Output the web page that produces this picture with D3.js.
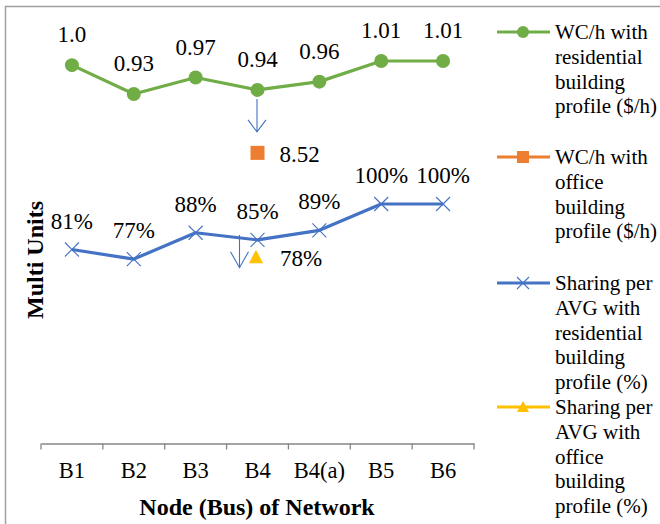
<!DOCTYPE html>
<html>
<head>
<meta charset="utf-8">
<script src="https://cdn.jsdelivr.net/npm/d3@7"></script>
<style>
  body { margin: 0; background: #fff; }
  svg text { fill: #000; }
</style>
</head>
<body>
<div id="chart"></div>
<script>
// data
var nodes = ["B1", "B2", "B3", "B4", "B4(a)", "B5", "B6"];
var wcResidential = [1.0, 0.93, 0.97, 0.94, 0.96, 1.01, 1.01];
var wcResidentialLabels = ["1.0", "0.93", "0.97", "0.94", "0.96", "1.01", "1.01"];
var wcOffice = [{node: "B4", value: 8.52}];
var shareResidential = [81, 77, 88, 85, 89, 100, 100];
var shareOffice = [{node: "B4", value: 78}];
var legendItems = [
  {color: "#70AD47", marker: "circle", lines: ["WC/h with", "residential", "building", "profile ($/h)"]},
  {color: "#ED7D31", marker: "square", lines: ["WC/h with", "office", "building", "profile ($/h)"]},
  {color: "#4472C4", marker: "cross", lines: ["Sharing per", "AVG with", "residential", "building", "profile (%)"]},
  {color: "#FFC000", marker: "triangle", lines: ["Sharing per", "AVG with", "office", "building", "profile (%)"]}
];

var svgWidth = 660;
var svgHeight = 524;
var serif = "'Liberation Serif', 'Times New Roman', serif";
var labelSize = 23, tickSize = 22.5, titleSize = 24, legendSize = 21;

var svg = d3.select("#chart")
  .append("svg")
  .attr("width", svgWidth)
  .attr("height", svgHeight)
  .style("font-family", serif);

// chart frame (only left + top visible, rest cropped)
svg.append("rect")
  .attr("x", 5.5).attr("y", 6.5)
  .attr("width", 700).attr("height", 600)
  .attr("fill", "none")
  .attr("stroke", "#a0a0a0")
  .attr("stroke-width", 1.5);

// scales
var x = d3.scaleBand().domain(nodes).range([41, 474]).padding(0);
var cx = d => x(d) + x.bandwidth() / 2;
var yWC = d3.scaleLinear().domain([0.93, 1.01]).range([94, 61]);
var yShare = d3.scaleLinear().domain([0, 100]).range([443.5, 204]);
var breakOffset = 63; // off-scale office WC/h drawn below the B4 point

// text helper so every label gets the same font
function label(sel, size) {
  return sel.style("font-family", serif).style("font-size", size + "px");
}

// x axis
var bottomAxis = d3.axisBottom(x).tickSize(0).tickPadding(18.5);
var axisG = svg.append("g")
  .attr("transform", "translate(0,443.5)")
  .call(bottomAxis)
  .attr("font-family", null);
axisG.select(".domain").attr("stroke", "#868686").attr("stroke-width", 1.3);
label(axisG.selectAll(".tick text"), tickSize).attr("fill", "#000");
axisG.selectAll(".boundary")
  .data(nodes.concat(["end"]))
  .enter().append("line")
  .attr("x1", d => d === "end" ? x.range()[1] : x(d))
  .attr("x2", d => d === "end" ? x.range()[1] : x(d))
  .attr("y1", 0).attr("y2", 6)
  .attr("stroke", "#868686").attr("stroke-width", 1.3);

// axis titles
label(svg.append("text"), titleSize)
  .attr("x", 257).attr("y", 515)
  .attr("text-anchor", "middle")
  .style("font-weight", "bold")
  .text("Node (Bus) of Network");

label(svg.append("text"), titleSize)
  .attr("transform", "translate(43,260) rotate(-90)")
  .attr("text-anchor", "middle")
  .style("font-weight", "bold")
  .text("Multi Units");

// green line
var lineWC = d3.line().x((d, i) => cx(nodes[i])).y(d => yWC(d));
svg.append("path")
  .datum(wcResidential)
  .attr("d", lineWC)
  .attr("fill", "none")
  .attr("stroke", "#70AD47")
  .attr("stroke-width", 3.2)
  .attr("stroke-linejoin", "round");
svg.selectAll(".wcDot")
  .data(wcResidential)
  .enter().append("circle")
  .attr("cx", (d, i) => cx(nodes[i]))
  .attr("cy", d => yWC(d))
  .attr("r", 7)
  .attr("fill", "#70AD47");
label(svg.selectAll(".wcLabel")
  .data(wcResidential)
  .enter().append("text"), labelSize)
  .attr("x", (d, i) => cx(nodes[i]))
  .attr("y", d => yWC(d) - 23)
  .attr("text-anchor", "middle")
  .text((d, i) => wcResidentialLabels[i]);

// blue line
var lineShare = d3.line().x((d, i) => cx(nodes[i])).y(d => yShare(d));
svg.append("path")
  .datum(shareResidential)
  .attr("d", lineShare)
  .attr("fill", "none")
  .attr("stroke", "#4472C4")
  .attr("stroke-width", 3.2)
  .attr("stroke-linejoin", "round");
svg.selectAll(".shareMark")
  .data(shareResidential)
  .enter().append("path")
  .attr("transform", (d, i) => "translate(" + cx(nodes[i]) + "," + yShare(d) + ")")
  .attr("d", "M-7,-7L7,7M-7,7L7,-7")
  .attr("stroke", "#4472C4")
  .attr("stroke-width", 1.1)
  .attr("fill", "none");
label(svg.selectAll(".shareLabel")
  .data(shareResidential)
  .enter().append("text"), labelSize)
  .attr("x", (d, i) => cx(nodes[i]))
  .attr("y", d => yShare(d) - 21)
  .attr("text-anchor", "middle")
  .text(d => d + "%");

// arrows pointing to off-line office values
function arrow(x0, y0, y1, head) {
  svg.append("path")
    .attr("d", "M" + x0 + "," + y0 + "V" + y1 + "M" + (x0 - 9) + "," + (y1 - head) + "L" + x0 + "," + y1 + "L" + (x0 + 9) + "," + (y1 - head))
    .attr("fill", "none")
    .attr("stroke", "#4472C4")
    .attr("stroke-width", 1.1);
}

// orange office WC/h point
wcOffice.forEach(function(d) {
  var px = cx(d.node);
  var py = yWC(wcResidential[nodes.indexOf(d.node)]) + breakOffset;
  arrow(px - 0.5, yWC(wcResidential[nodes.indexOf(d.node)]) + 9, py - 21, 12);
  svg.append("rect")
    .attr("x", px - 7).attr("y", py - 7)
    .attr("width", 14).attr("height", 14)
    .attr("fill", "#ED7D31");
  label(svg.append("text"), labelSize)
    .attr("x", px + 22).attr("y", py + 9)
    .text(d.value.toFixed(2));
});

// yellow office sharing point
shareOffice.forEach(function(d) {
  var px = cx(d.node) - 1.5;
  var py = yShare(d.value);
  arrow(px - 16.5, yShare(shareResidential[nodes.indexOf(d.node)]) - 5, py + 11, 16);
  svg.append("path")
    .attr("transform", "translate(" + px + "," + py + ")")
    .attr("d", "M0,-7L7,6.5L-7,6.5Z")
    .attr("fill", "#FFC000");
  label(svg.append("text"), labelSize)
    .attr("x", px + 24).attr("y", py + 9.5)
    .text(d.value + "%");
});

// legend
var legendY = [32, 157, 283, 407];
var legend = svg.selectAll(".legend")
  .data(legendItems)
  .enter().append("g")
  .attr("transform", (d, i) => "translate(497," + legendY[i] + ")");
legend.append("line")
  .attr("x1", 0).attr("x2", 53)
  .attr("stroke", d => d.color)
  .attr("stroke-width", 3.2);
legend.each(function(d) {
  var g = d3.select(this);
  if (d.marker === "circle") {
    g.append("circle").attr("cx", 26).attr("r", 6).attr("fill", d.color);
  } else if (d.marker === "square") {
    g.append("rect").attr("x", 20).attr("y", -6).attr("width", 12).attr("height", 12).attr("fill", d.color);
  } else if (d.marker === "cross") {
    g.append("path").attr("d", "M20,-6L32,6M20,6L32,-6").attr("stroke", d.color).attr("stroke-width", 1.1);
  } else {
    g.append("path").attr("d", "M26,-6L32,5L20,5Z").attr("fill", d.color);
  }
  label(g.selectAll("text")
    .data(d.lines)
    .enter().append("text"), legendSize)
    .attr("x", 58)
    .attr("y", (t, j) => 7 + j * 24.8)
    .text(t => t);
});
</script>
</body>
</html>
